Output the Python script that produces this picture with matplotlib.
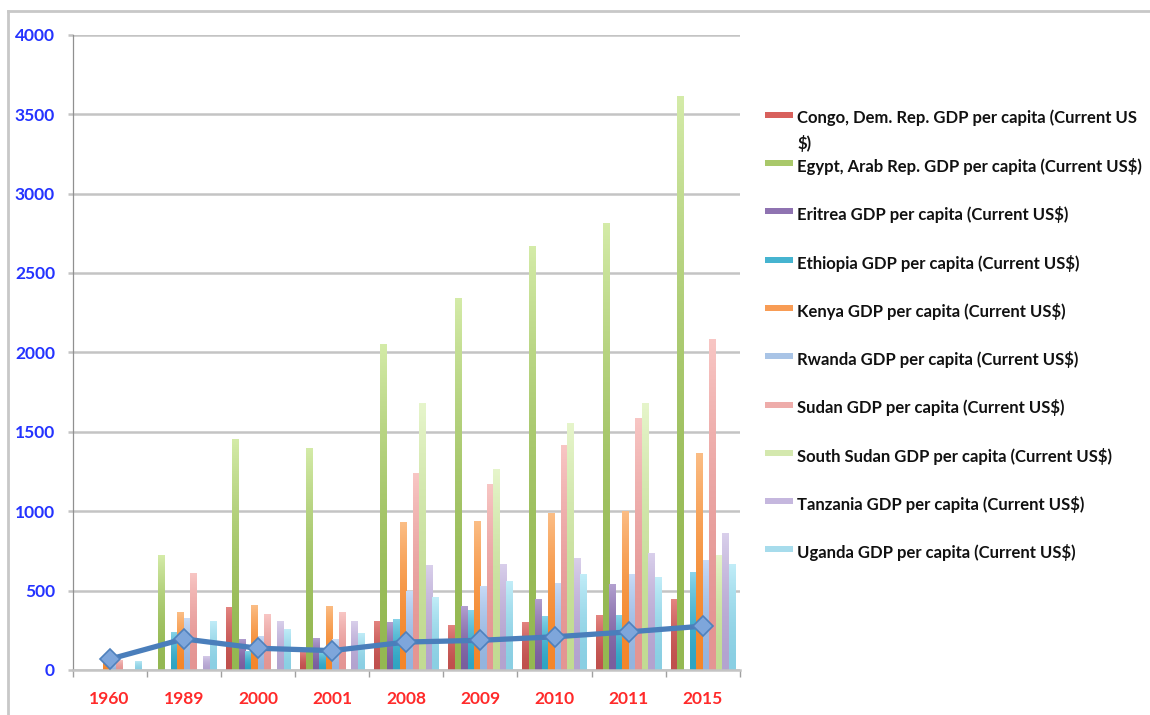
import numpy as np
import matplotlib.pyplot as plt
from matplotlib.colors import LinearSegmentedColormap
from matplotlib.lines import Line2D
from matplotlib.patches import Rectangle

plt.rcParams['font.family'] = ['Lato', 'DejaVu Sans']
plt.rcParams['font.weight'] = 'bold'

years = ['1960', '1989', '2000', '2001', '2008', '2009', '2010', '2011', '2015']
countries = ['Congo, Dem. Rep.', 'Egypt, Arab Rep.', 'Eritrea', 'Ethiopia', 'Kenya',
             'Rwanda', 'Sudan', 'South Sudan', 'Tanzania', 'Uganda']

nan = np.nan
# GDP per capita, current US$ (gaps = no data)
congo = [nan, nan, 397, 115, 310, 285, 303, 345, 450]
egypt = [nan, 722, 1456, 1400, 2053, 2345, 2670, 2817, 3612]
eritrea = [nan, nan, 196, 200, 304, 400, 450, 539, nan]
ethiopia = [nan, 242, 122, 122, 323, 380, 340, 349, 616]
kenya = [90, 363, 407, 405, 930, 936, 986, 1003, 1369]
rwanda = [40, 327, 215, 194, 495, 532, 550, 602, 694]
sudan = [65, 612, 352, 365, 1240, 1174, 1415, 1586, 2085]
south_sudan = [nan, nan, nan, nan, 1678, 1265, 1555, 1684, 725]
tanzania = [nan, 90, 306, 306, 658, 669, 704, 735, 861]
uganda = [59, 310, 260, 236, 458, 559, 606, 585, 669]
line_vals = [68, 196, 137, 122, 176, 187, 209, 240, 276]

series = [congo, egypt, eritrea, ethiopia, kenya, rwanda, sudan, south_sudan, tanzania, uganda]
labels = [c + ' GDP per capita (Current US$)' for c in countries]
labels[0] = 'Congo, Dem. Rep. GDP per capita (Current US\n$)'

# bottom / top colours of each bar gradient
c_bot = ['#c0504d', '#94b852', '#7a5e9e', '#2fa4c2', '#f4862a',
         '#94b4de', '#e49593', '#c2db93', '#b3a3cf', '#8acfe3']
c_top = ['#e58682', '#d4eba8', '#b3a0d0', '#8ad5ea', '#fbbd85',
         '#c8dbf6', '#f8c6c4', '#e6f5cb', '#d9cfeb', '#c2edf8']
c_leg = ['#d8605c', '#a9c86a', '#8f73b1', '#46b4d0', '#f89c55',
         '#a9c4e6', '#eeacaa', '#d4e8ae', '#c5b7de', '#a7dcec']

W, H = 1150, 715
fig = plt.figure(figsize=(W / 100, H / 100), dpi=100)
fig.patch.set_facecolor('white')
ax = fig.add_axes([72.5 / W, 1 - 670 / H, (740 - 72.5) / W, (670 - 34.7) / H])

x = np.arange(len(years))
n = len(series)
bw = 0.087
offsets = (np.arange(n) - (n - 1) / 2) * bw
# lighter only towards the top of each bar
grad = (np.linspace(0, 1, 96) ** 1.8).reshape(-1, 1)

for i, vals in enumerate(series):
    bars = ax.bar(x + offsets[i], vals, width=bw, color=c_bot[i], linewidth=0, zorder=2)
    cmap = LinearSegmentedColormap.from_list('g%d' % i, [c_bot[i], c_top[i]])
    for b in bars:
        h = b.get_height()
        if not np.isfinite(h) or h <= 0:
            continue
        im = ax.imshow(grad, extent=(b.get_x(), b.get_x() + b.get_width(), 0, h),
                       origin='lower', aspect='auto', cmap=cmap, vmin=0, vmax=1,
                       zorder=2.1, interpolation='bilinear')
        im.set_clip_path(b)

ax.plot(x, line_vals, color='#4a7ebb', lw=3.8, marker='D', ms=10.5,
        mfc='#7ea6db', mec='#4f81bd', mew=1.2, zorder=5)

ax.set_xlim(-0.5, len(years) - 0.5)
ax.set_ylim(0, 4000)
ax.set_yticks(np.arange(0, 4001, 500))
ax.set_xticks(x)
ax.set_xticklabels(years)
ax.set_xticks(np.arange(-0.5, len(years), 1), minor=True)

ax.grid(axis='y', color='#c4c4c4', lw=1.8, zorder=0)
ax.set_axisbelow(True)
for s in ['top', 'right']:
    ax.spines[s].set_visible(False)
ax.spines['left'].set_color('#909090')
ax.spines['left'].set_linewidth(0.9)
ax.spines['bottom'].set_color('#c4c4c4')
ax.spines['bottom'].set_linewidth(1.8)

ax.tick_params(axis='y', length=3.6, width=1.8, color='#c4c4c4', pad=9,
               labelsize=12.5, labelcolor='#2433ff')
ax.tick_params(axis='x', which='major', length=0, pad=15, labelsize=12.5,
               labelcolor='#ff2a2a')
ax.tick_params(axis='x', which='minor', length=5, width=1, color='#a0a0a0')

# legend, drawn by hand so the wrapped Congo entry lines up on its first row
row_gap = 48.3
line_gap = 25.5
for i, lab in enumerate(labels):
    y0 = 116.7 + i * row_gap
    fig.add_artist(Rectangle((765 / W, 1 - (y0 + 1) / H), 28 / W, 6 / H,
                             transform=fig.transFigure, color=c_leg[i], lw=0))
    for k, part in enumerate(lab.split('\n')):
        fig.text(797 / W, 1 - (y0 + k * line_gap) / H, part, ha='left',
                 va='center_baseline', fontsize=12, color='#111111')

# outer chart frame (left and top edges)
fig.add_artist(Line2D([8 / W, 8 / W], [0, 1 - 11 / H], transform=fig.transFigure,
                      color='#c8c8c8', lw=2))
fig.add_artist(Line2D([8 / W, 1], [1 - 11 / H, 1 - 11 / H], transform=fig.transFigure,
                      color='#c8c8c8', lw=2))

fig.savefig('out.png', dpi=100)
